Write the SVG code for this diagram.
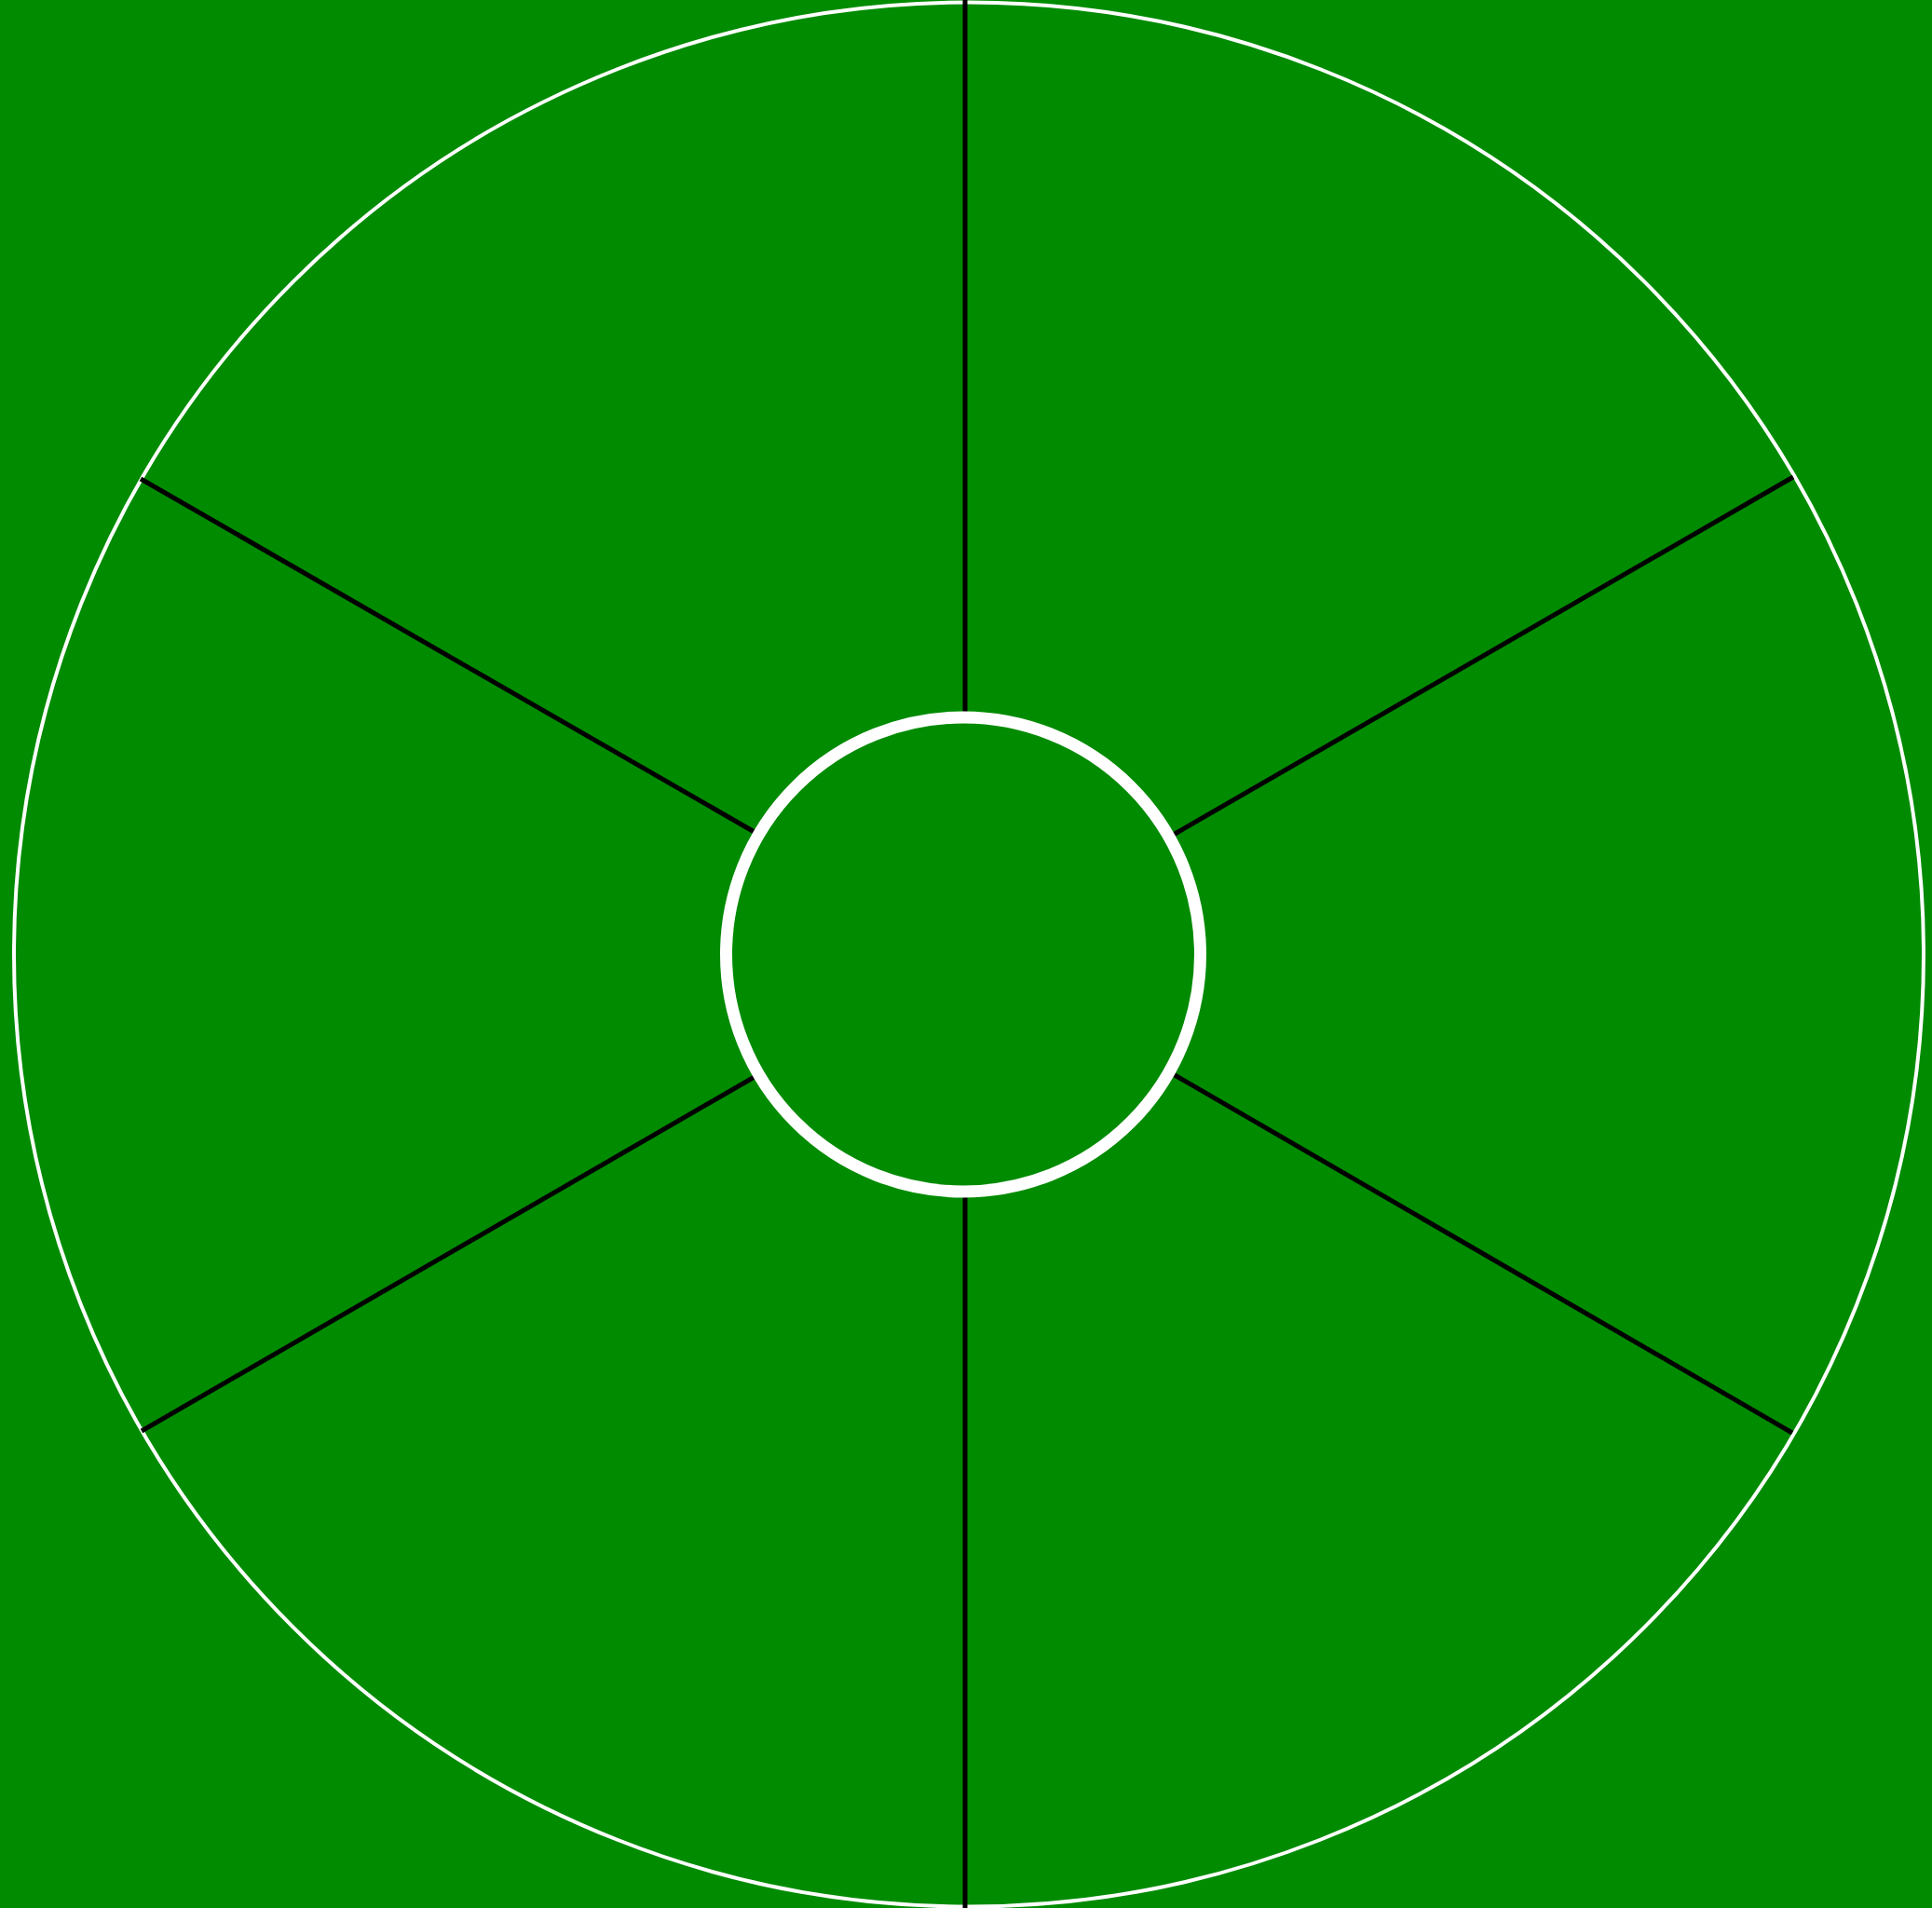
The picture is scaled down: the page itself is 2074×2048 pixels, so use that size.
<svg xmlns="http://www.w3.org/2000/svg" width="2074" height="2048" viewBox="0 0 2074 2048">
<style>
.spoke{stroke:#000;stroke-width:5;fill:none}
.ring{fill:none;stroke:#fff}
</style>
<rect x="0" y="0" width="2074" height="2048" fill="#008b00"/>
<g id="outer"><ellipse class="ring" cx="1040" cy="1024.5" rx="1025" ry="1022" stroke-width="4"/></g>
<g id="connectors">
<line class="spoke" x1="1036" y1="0" x2="1036" y2="770"/>
<line class="spoke" x1="1036" y1="1279" x2="1036" y2="2048"/>
<line class="spoke" x1="151" y1="514" x2="815" y2="896"/>
<line class="spoke" x1="1925" y1="512" x2="1256" y2="898"/>
<line class="spoke" x1="152" y1="1536" x2="815" y2="1153"/>
<line class="spoke" x1="1924" y1="1538" x2="1256" y2="1151"/>
</g>
<g id="hub"><circle class="ring" cx="1034" cy="1024.5" r="254.5" stroke-width="13" fill="#008b00"/></g>
</svg>
